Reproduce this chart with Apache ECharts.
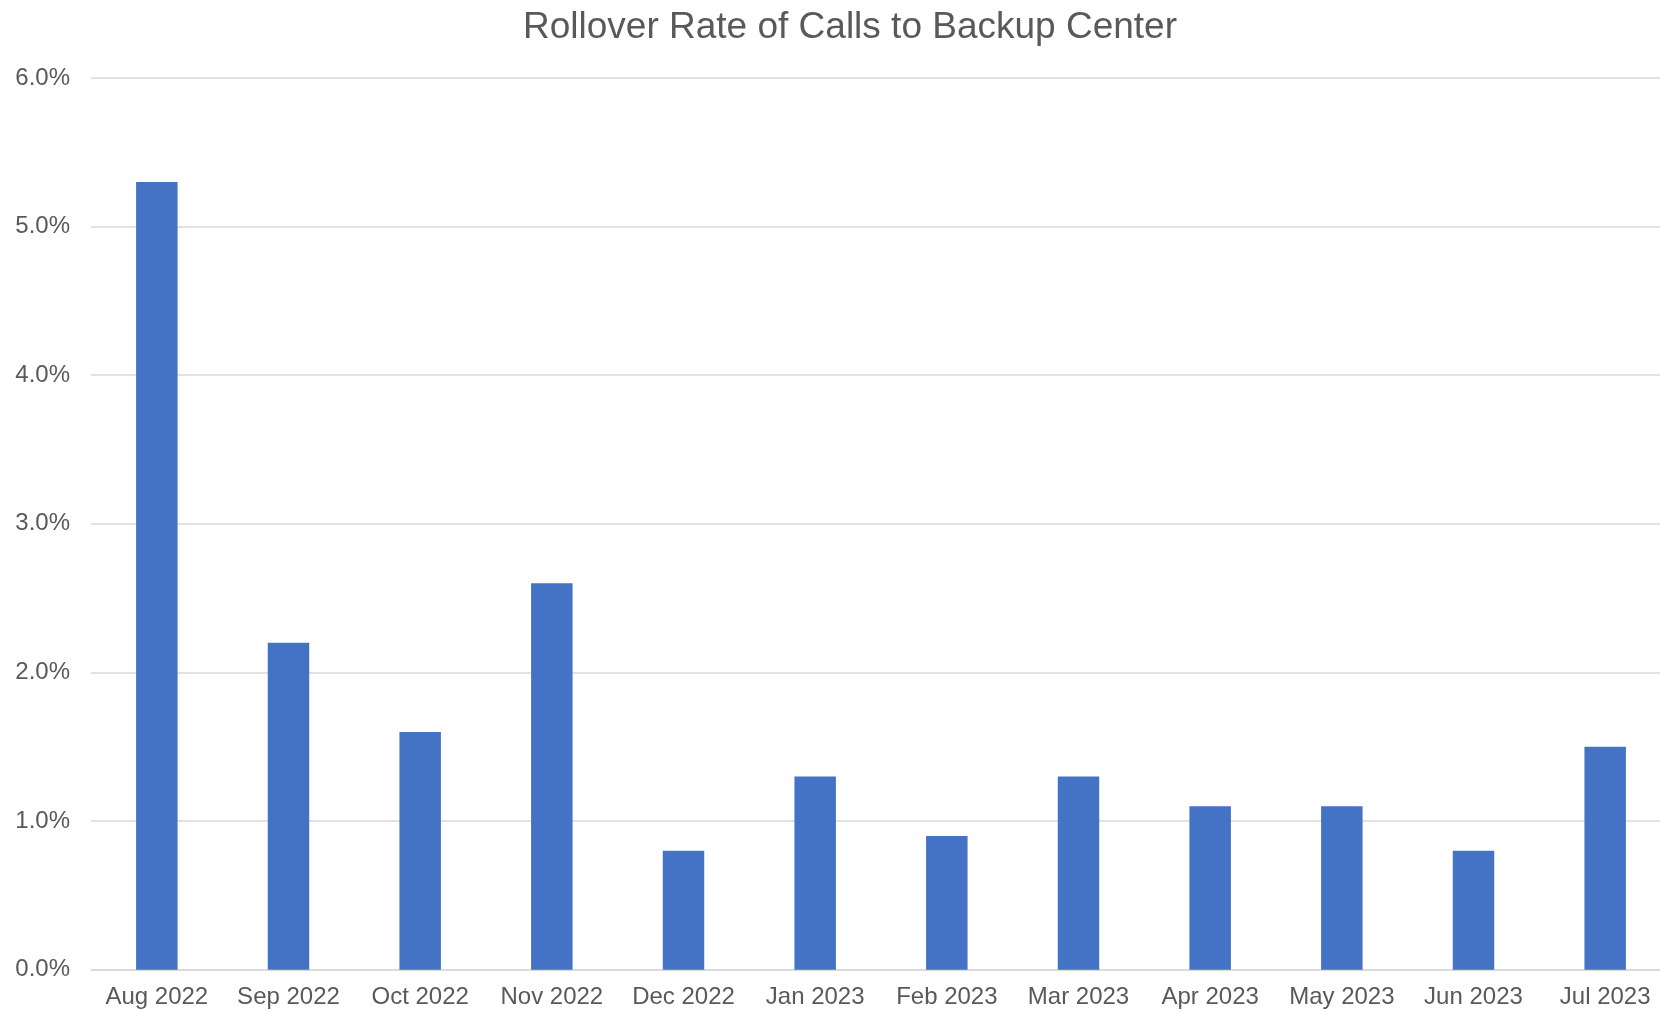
<!DOCTYPE html>
<html>
<head>
<meta charset="utf-8">
<script src="https://cdn.jsdelivr.net/npm/echarts@6/dist/echarts.min.js"></script>
<style>html,body{margin:0;padding:0;background:#fff;}#c{width:1660px;height:1011px;}</style>
</head>
<body>
<div id="c"></div>
<script>
const categories = ["Aug 2022","Sep 2022","Oct 2022","Nov 2022","Dec 2022","Jan 2023","Feb 2023","Mar 2023","Apr 2023","May 2023","Jun 2023","Jul 2023"];
const rolloverRate = [5.3, 2.2, 1.6, 2.6, 0.8, 1.3, 0.9, 1.3, 1.1, 1.1, 0.8, 1.5];
const yTicks = { min: 0, max: 6, interval: 1 };

const chart = echarts.init(document.getElementById('c'), null, {renderer: 'canvas'});
chart.setOption({
  animation: false,
  backgroundColor: '#ffffff',
  textStyle: { fontFamily: 'Liberation Sans, Arial, sans-serif' },
  title: {
    text: 'Rollover Rate of Calls to Backup Center',
    left: 845,
    textAlign: 'center',
    top: 4,
    textStyle: { fontFamily: 'Liberation Sans, Arial, sans-serif', fontSize: 37, fontWeight: 'normal', color: '#595959' }
  },
  grid: { left: 91, width: 1580, top: 78, height: 891.7, containLabel: false, outerBoundsMode: 'none' },
  xAxis: {
    type: 'category',
    data: categories,
    axisTick: { show: false },
    axisLine: { lineStyle: { color: '#d9d9d9', width: 1.5 } },
    axisLabel: { color: '#595959', fontSize: 24, margin: 16, interval: 0 }
  },
  yAxis: {
    type: 'value',
    min: yTicks.min, max: yTicks.max, interval: yTicks.interval,
    axisLine: { show: false },
    axisTick: { show: false },
    splitLine: { lineStyle: { color: '#d9d9d9', width: 1.5 } },
    axisLabel: { color: '#595959', fontSize: 24, margin: 21, formatter: v => v.toFixed(1) + '%' }
  },
  series: [{
    type: 'bar',
    data: rolloverRate,
    barWidth: '31.5%',
    itemStyle: { color: '#4472C4' }
  }]
});
</script>
</body>
</html>
